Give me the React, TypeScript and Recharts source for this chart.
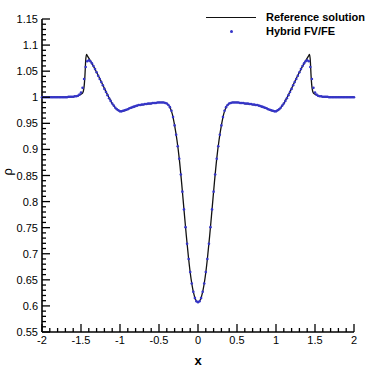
import { ComposedChart, Line, Scatter, XAxis, YAxis } from "recharts";

// reference solution (black line)
const refX = [
  -2, -1.8, -1.6, -1.55, -1.5, -1.48, -1.465, -1.45, -1.44, -1.43, -1.42, -1.4, -1.35, -1.3, -1.25, -1.2, -1.15,
  -1.1, -1.05, -1, -0.95, -0.9, -0.85, -0.8, -0.7, -0.6, -0.5, -0.45, -0.4, -0.36, -0.33, -0.3, -0.27, -0.24,
  -0.21, -0.18, -0.15, -0.12, -0.09, -0.06, -0.03, 0, 0.03, 0.06, 0.09, 0.12, 0.15, 0.18, 0.21, 0.24, 0.27, 0.3,
  0.33, 0.36, 0.4, 0.45, 0.5, 0.6, 0.7, 0.8, 0.85, 0.9, 0.95, 1, 1.05, 1.1, 1.15, 1.2, 1.25, 1.3, 1.35, 1.4, 1.42,
  1.43, 1.44, 1.45, 1.465, 1.48, 1.5, 1.55, 1.6, 1.8, 2,
];
const refRho = [
  1.0, 1.0, 1.001, 1.002, 1.006, 1.008, 1.015, 1.04, 1.07, 1.082, 1.08, 1.075, 1.062, 1.048, 1.033, 1.017, 1.002,
  0.988, 0.978, 0.973, 0.974, 0.977, 0.98, 0.983, 0.986, 0.988, 0.99, 0.99, 0.988, 0.981, 0.968, 0.946, 0.918, 0.882,
  0.836, 0.785, 0.735, 0.69, 0.653, 0.627, 0.612, 0.607, 0.612, 0.627, 0.653, 0.69, 0.735, 0.785, 0.836, 0.882, 0.918,
  0.946, 0.968, 0.981, 0.988, 0.99, 0.99, 0.988, 0.986, 0.983, 0.98, 0.977, 0.974, 0.973, 0.978, 0.988, 1.002, 1.017,
  1.033, 1.048, 1.062, 1.075, 1.08, 1.082, 1.07, 1.04, 1.015, 1.008, 1.006, 1.002, 1.001, 1.0, 1.0,
];

// hybrid FV/FE (blue dots)
const hybX = [
  -2, -1.98, -1.96, -1.94, -1.92, -1.9, -1.88, -1.86, -1.84, -1.82, -1.8, -1.78, -1.76, -1.74, -1.72, -1.7,
  -1.68, -1.66, -1.64, -1.62, -1.6, -1.58, -1.56, -1.54, -1.52, -1.5, -1.48, -1.46, -1.44, -1.42, -1.4,
  -1.38, -1.36, -1.34, -1.32, -1.3, -1.28, -1.26, -1.24, -1.22, -1.2, -1.18, -1.16, -1.14, -1.12, -1.1,
  -1.08, -1.06, -1.04, -1.02, -1, -0.98, -0.96, -0.94, -0.92, -0.9, -0.88, -0.86, -0.84, -0.82, -0.8,
  -0.78, -0.76, -0.74, -0.72, -0.7, -0.68, -0.66, -0.64, -0.62, -0.6, -0.58, -0.56, -0.54, -0.52, -0.5,
  -0.48, -0.46, -0.44, -0.42, -0.4, -0.38, -0.36, -0.34, -0.32, -0.3, -0.28, -0.26, -0.24, -0.22, -0.2,
  -0.18, -0.16, -0.14, -0.12, -0.1, -0.08, -0.06, -0.04, -0.02, 0,
  0.02, 0.04, 0.06, 0.08, 0.1, 0.12, 0.14, 0.16, 0.18, 0.2, 0.22, 0.24, 0.26, 0.28, 0.3,
  0.32, 0.34, 0.36, 0.38, 0.4, 0.42, 0.44, 0.46, 0.48, 0.5, 0.52, 0.54, 0.56, 0.58, 0.6,
  0.62, 0.64, 0.66, 0.68, 0.7, 0.72, 0.74, 0.76, 0.78, 0.8, 0.82, 0.84, 0.86, 0.88, 0.9,
  0.92, 0.94, 0.96, 0.98, 1, 1.02, 1.04, 1.06, 1.08, 1.1, 1.12, 1.14, 1.16, 1.18, 1.2,
  1.22, 1.24, 1.26, 1.28, 1.3, 1.32, 1.34, 1.36, 1.38, 1.4, 1.42, 1.44, 1.46, 1.48, 1.5,
  1.52, 1.54, 1.56, 1.58, 1.6, 1.62, 1.64, 1.66, 1.68, 1.7, 1.72, 1.74, 1.76, 1.78, 1.8,
  1.82, 1.84, 1.86, 1.88, 1.9, 1.92, 1.94, 1.96, 1.98, 2,
];
const hybRho = [
  1.0, 1.0, 1.0, 1.0, 1.0, 1.0, 1.0, 1.0, 1.0, 1.0, 1.0, 1.0, 1.0, 1.0, 1.0, 1.0,
  1.0, 1.001, 1.001, 1.001, 1.001, 1.002, 1.002, 1.003, 1.005, 1.009, 1.018, 1.035, 1.058, 1.069, 1.071,
  1.069, 1.065, 1.06, 1.054, 1.048, 1.041, 1.035, 1.029, 1.023, 1.016, 1.01, 1.004, 0.998, 0.993, 0.988,
  0.984, 0.98, 0.977, 0.975, 0.973, 0.973, 0.974, 0.975, 0.976, 0.977, 0.979, 0.98, 0.981, 0.982, 0.983,
  0.984, 0.985, 0.985, 0.986, 0.986, 0.987, 0.987, 0.988, 0.988, 0.988, 0.989, 0.989, 0.989, 0.99, 0.99,
  0.99, 0.99, 0.99, 0.989, 0.988, 0.985, 0.981, 0.974, 0.962, 0.946, 0.928, 0.906, 0.882, 0.852, 0.819,
  0.785, 0.751, 0.719, 0.69, 0.665, 0.643, 0.627, 0.615, 0.609, 0.607,
  0.609, 0.615, 0.627, 0.643, 0.665, 0.69, 0.719, 0.751, 0.785, 0.819, 0.852, 0.882, 0.906, 0.928, 0.946,
  0.962, 0.974, 0.981, 0.985, 0.988, 0.989, 0.99, 0.99, 0.99, 0.99, 0.99, 0.989, 0.989, 0.989, 0.988,
  0.988, 0.988, 0.987, 0.987, 0.986, 0.986, 0.985, 0.985, 0.984, 0.983, 0.982, 0.981, 0.98, 0.979, 0.977,
  0.976, 0.975, 0.974, 0.973, 0.973, 0.975, 0.977, 0.98, 0.984, 0.988, 0.993, 0.998, 1.004, 1.01, 1.016,
  1.023, 1.029, 1.035, 1.041, 1.048, 1.054, 1.06, 1.065, 1.069, 1.071, 1.069, 1.058, 1.035, 1.018, 1.009,
  1.005, 1.003, 1.002, 1.002, 1.001, 1.001, 1.001, 1.001, 1.0, 1.0, 1.0, 1.0, 1.0, 1.0, 1.0,
  1.0, 1.0, 1.0, 1.0, 1.0, 1.0, 1.0, 1.0, 1.0, 1.0,
];

const xTicks = [
  -2, -1.9, -1.8, -1.7, -1.6, -1.5, -1.4, -1.3, -1.2, -1.1, -1, -0.9, -0.8, -0.7, -0.6, -0.5, -0.4, -0.3, -0.2, -0.1,
  0, 0.1, 0.2, 0.3, 0.4, 0.5, 0.6, 0.7, 0.8, 0.9, 1, 1.1, 1.2, 1.3, 1.4, 1.5, 1.6, 1.7, 1.8, 1.9, 2,
];
const xMajor = [-2, -1.5, -1, -0.5, 0, 0.5, 1, 1.5, 2];
const yTicks = [
  0.55, 0.56, 0.57, 0.58, 0.59, 0.6, 0.61, 0.62, 0.63, 0.64, 0.65, 0.66, 0.67, 0.68, 0.69, 0.7, 0.71, 0.72, 0.73,
  0.74, 0.75, 0.76, 0.77, 0.78, 0.79, 0.8, 0.81, 0.82, 0.83, 0.84, 0.85, 0.86, 0.87, 0.88, 0.89, 0.9, 0.91, 0.92,
  0.93, 0.94, 0.95, 0.96, 0.97, 0.98, 0.99, 1, 1.01, 1.02, 1.03, 1.04, 1.05, 1.06, 1.07, 1.08, 1.09, 1.1, 1.11, 1.12,
  1.13, 1.14, 1.15,
];
const yMajor = [0.55, 0.6, 0.65, 0.7, 0.75, 0.8, 0.85, 0.9, 0.95, 1, 1.05, 1.1, 1.15];

const refData = refX.map((x, i) => ({ x, rho: refRho[i] }));
const hybData = hybX.map((x, i) => ({ x, rho: hybRho[i] }));

const font = '"Liberation Sans", Arial, sans-serif';
const blue = "#3535c8";

const XTick = (props: any) => {
  const { x, y, payload } = props;
  const major = xMajor.includes(payload.value);
  return (
    <g>
      <line x1={x} y1={y} x2={x} y2={y - (major ? 8 : 4)} stroke="#000" strokeWidth={1.3} />
      {major && (
        <text x={x} y={y + 12} textAnchor="middle" fontSize={11} fontFamily={font} fill="#000">
          {String(payload.value)}
        </text>
      )}
    </g>
  );
};

const YTick = (props: any) => {
  const { x, y, payload } = props;
  const major = yMajor.includes(payload.value);
  return (
    <g>
      <line x1={x} y1={y} x2={x + (major ? 8 : 4)} y2={y} stroke="#000" strokeWidth={1.3} />
      {major && (
        <text x={x - 4} y={y + 4} textAnchor="end" fontSize={11} fontFamily={font} fill="#000">
          {String(payload.value)}
        </text>
      )}
    </g>
  );
};

const Dot = (props: any) => <circle cx={props.cx} cy={props.cy} r={1.3} fill={blue} />;

export default function App() {
  return (
    <div style={{ position: "absolute", left: 0, top: 0, width: 374, height: 374, background: "#fff" }}>
      <ComposedChart width={374} height={374} margin={{ top: 19, right: 20, bottom: 12, left: 0 }}>
        <XAxis
          type="number"
          dataKey="x"
          domain={[-2, 2]}
          ticks={xTicks}
          interval={0}
          tickSize={0}
          tickMargin={0}
          tickLine={false}
          tick={<XTick />}
          height={30}
          stroke="#000"
          strokeWidth={1.6}
          label={{ value: "x", position: "insideBottom", offset: -3, fontSize: 13, fontWeight: "bold", fontFamily: font, fill: "#000" }}
        />
        <YAxis
          type="number"
          dataKey="rho"
          domain={[0.55, 1.15]}
          ticks={yTicks}
          interval={0}
          tickSize={0}
          tickMargin={0}
          tickLine={false}
          tick={<YTick />}
          width={42}
          stroke="#000"
          strokeWidth={1.6}
          label={{ value: "ρ", angle: -90, position: "insideLeft", offset: 7, fontSize: 13, fontFamily: font, fill: "#000" }}
        />
        <Line
          data={refData}
          dataKey="rho"
          type="monotone"
          stroke="#111"
          strokeWidth={1.3}
          dot={false}
          isAnimationActive={false}
        />
        <Scatter data={hybData} dataKey="rho" fill={blue} shape={<Dot />} isAnimationActive={false} />
      </ComposedChart>
      <div
        style={{
          position: "absolute",
          left: 206,
          top: 10,
          fontFamily: font,
          fontWeight: "bold",
          fontSize: 11,
          color: "#000",
          lineHeight: "14px",
        }}
      >
        <div style={{ display: "flex", alignItems: "center" }}>
          <span style={{ display: "inline-block", width: 50, height: 0, borderTop: "1.3px solid #111", marginRight: 10 }} />
          Reference solution
        </div>
        <div style={{ display: "flex", alignItems: "center" }}>
          <span style={{ display: "inline-block", width: 50, marginRight: 10, position: "relative", height: 14 }}>
            <span
              style={{
                position: "absolute",
                left: 24,
                top: 6,
                width: 3,
                height: 3,
                borderRadius: "50%",
                background: blue,
              }}
            />
          </span>
          Hybrid FV/FE
        </div>
      </div>
    </div>
  );
}
